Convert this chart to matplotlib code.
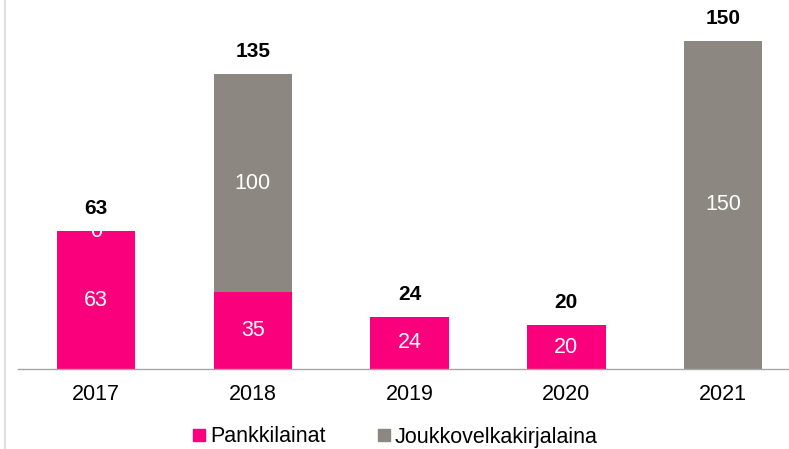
"""Stacked bar chart: loan maturities by year."""

import matplotlib as mpl

mpl.use("Agg")
import matplotlib.pyplot as plt
from matplotlib.lines import Line2D

years = ["2017", "2018", "2019", "2020", "2021"]
pankkilainat = [63, 35, 24, 20, 0]
joukkovelkakirjalaina = [0, 100, 0, 0, 150]
# which segment labels are shown inside the bars
show_pankki = [True, True, True, True, False]
show_jvk = [True, True, False, False, True]

PINK = "#FA007D"
GRAY = "#8C8781"

plt.rcParams["font.family"] = ["Liberation Sans", "DejaVu Sans"]

fig = plt.figure(figsize=(7.89, 4.49), dpi=100)
fig.patch.set_facecolor("white")
ax = fig.add_axes((17.5 / 789, 80 / 449, 784 / 789, 328 / 449))

x = list(range(len(years)))
ax.bar(x, pankkilainat, width=0.5, color=PINK, linewidth=0)
ax.bar(x, joukkovelkakirjalaina, width=0.5, bottom=pankkilainat, color=GRAY, linewidth=0)

for i in x:
    p, j = pankkilainat[i], joukkovelkakirjalaina[i]
    if show_pankki[i]:
        ax.text(i, p / 2, str(p), ha="center", va="center", color="white", fontsize=15.5)
    if show_jvk[i]:
        ax.text(i, p + j / 2, str(j), ha="center", va="center", color="white", fontsize=15.5)
    ax.annotate(str(p + j), (i, p + j), xytext=(0, 13), textcoords="offset pixels",
                ha="center", va="bottom", fontsize=15, fontweight="bold", color="black",
                annotation_clip=False)

ax.set_xlim(-0.5, 4.5)
ax.set_ylim(0, 150)
ax.set_xticks(x)
ax.set_xticklabels(years, fontsize=15.5)
ax.tick_params(axis="x", length=0, pad=11)
ax.set_yticks([])
for side in ("left", "right", "top"):
    ax.spines[side].set_visible(False)
ax.spines["bottom"].set_color("#A6A6A6")
ax.spines["bottom"].set_linewidth(1)

# thin frame line on the left edge
fig.add_artist(Line2D([4.5 / 789, 4.5 / 789], [0, 1], color="#E0E0DC", linewidth=1.5))

handles = [
    Line2D([], [], marker="s", linestyle="none", markersize=9, color=PINK),
    Line2D([], [], marker="s", linestyle="none", markersize=9, color=GRAY),
]
fig.legend(handles, ["Pankkilainat", "Joukkovelkakirjalaina"], loc="center",
           bbox_to_anchor=(393 / 789, 1 - 437 / 449), ncol=2, frameon=False,
           fontsize=15.5, handletextpad=0.0, columnspacing=2.2, handlelength=1.0)

fig.savefig("out.png", dpi=100, facecolor="white")
plt.close(fig)
